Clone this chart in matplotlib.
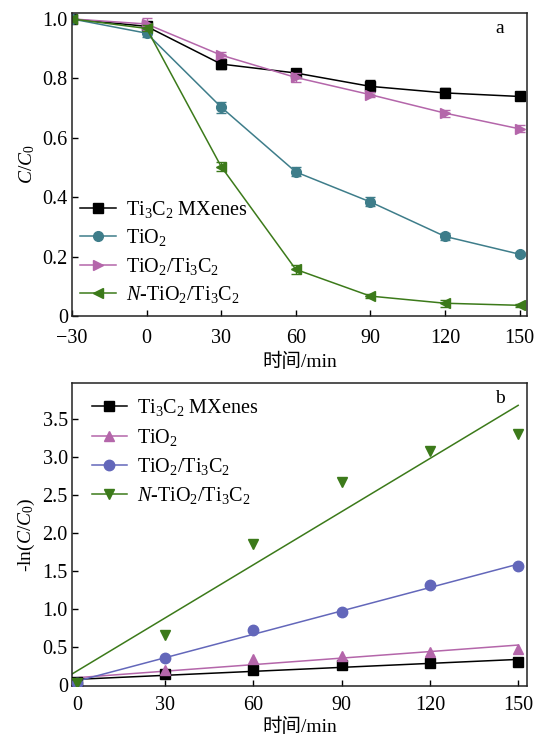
import numpy as np
import matplotlib
matplotlib.use('Agg')
import matplotlib.pyplot as plt
from matplotlib.ticker import FuncFormatter

plt.rcParams['font.family'] = ['Liberation Serif', 'Noto Sans CJK SC']
plt.rcParams['mathtext.fontset'] = 'custom'
plt.rcParams['mathtext.rm'] = 'Liberation Serif'
plt.rcParams['mathtext.it'] = 'Liberation Serif:italic'
plt.rcParams['font.size'] = 14

# panel a data: C/C0 vs time
time_a = [-30, 0, 30, 60, 90, 120, 150]
mxene_a = [1.0, 0.975, 0.848, 0.818, 0.773, 0.751, 0.739]
mxene_err = [0.005, 0.01, 0.015, 0.008, 0.02, 0.015, 0.006]
tio2_a = [1.0, 0.952, 0.703, 0.485, 0.384, 0.268, 0.208]
tio2_err = [0.005, 0.012, 0.018, 0.015, 0.015, 0.012, 0.006]
comp_a = [1.0, 0.983, 0.878, 0.803, 0.745, 0.683, 0.630]
comp_err = [0.005, 0.02, 0.01, 0.015, 0.008, 0.012, 0.012]
ncomp_a = [1.0, 0.968, 0.503, 0.157, 0.067, 0.043, 0.036]
ncomp_err = [0.004, 0.01, 0.015, 0.015, 0.006, 0.012, 0.005]

# panel b data: -ln(C/C0) vs time
time_b = [0, 30, 60, 90, 120, 150]
mxene_b = [0.04, 0.15, 0.20, 0.26, 0.29, 0.31]
tio2_b = [0.03, 0.20, 0.35, 0.38, 0.44, 0.48]
comp_b = [0.03, 0.355, 0.72, 0.96, 1.31, 1.56]
ncomp_b = [0.03, 0.66, 1.85, 2.67, 3.08, 3.30]

labels = [r'Ti$_3$C$_2$ MXenes', r'TiO$_2$', r'TiO$_2$/Ti$_3$C$_2$',
          r'$N$-TiO$_2$/Ti$_3$C$_2$']

black = '#000000'
teal = '#3E7D8A'
pink = '#B466AA'
blue = '#6367BA'
green = '#3C7A1A'

fig = plt.figure(figsize=(5.36, 7.38), dpi=100)
ax1 = fig.add_axes([0.1343, 0.5718, 0.8489, 0.4106])
ax2 = fig.add_axes([0.1343, 0.0705, 0.8489, 0.4105])

# ---- panel a ----
series_a = [(mxene_a, mxene_err, black, 's', 6.5),
            (tio2_a, tio2_err, teal, 'o', 7),
            (comp_a, comp_err, pink, '>', 7.5),
            (ncomp_a, ncomp_err, green, '<', 7.5)]
handles = []
for (vals, err, col, mk, ms), lab in zip(series_a, labels):
    ax1.errorbar(time_a, vals, yerr=err, fmt='none', ecolor=col,
                 capsize=3.5, elinewidth=1, capthick=1)
    h, = ax1.plot(time_a, vals, color=col, marker=mk, markersize=ms,
                  linewidth=1.1, label=lab)
    handles.append(h)

ax1.set_xlim(-30, 153)
ax1.set_ylim(0, 1.02)
ax1.set_xticks([-30, 0, 30, 60, 90, 120, 150])
ax1.set_yticks([0, 0.2, 0.4, 0.6, 0.8, 1.0])
ax1.yaxis.set_major_formatter(FuncFormatter(lambda v, p: '0' if v == 0 else f'{v:.1f}'))
ax1.set_xlabel('时间/min', fontsize=14, labelpad=4)
ax1.set_ylabel(r'$C$/$C_0$', fontsize=14, labelpad=4)
ax1.text(0.94, 0.95, 'a', transform=ax1.transAxes, fontsize=14,
         ha='center', va='center')
ax1.legend(handles=handles, loc='lower left', frameon=False, fontsize=14.5,
           handlelength=1.75, handletextpad=0.5, labelspacing=0.36,
           borderaxespad=0.15, bbox_to_anchor=(-0.006, 0.0))

# ---- panel b ----
xfit = np.array([-1.7, 150])
series_b = [(mxene_b, black, 's', 6.5),
            (tio2_b, pink, '^', 7.5),
            (comp_b, blue, 'o', 7.5),
            (ncomp_b, green, 'v', 7.5)]
handles = []
for (vals, col, mk, ms), lab in zip(series_b, labels):
    k, b = np.polyfit(time_b, vals, 1)
    ax2.plot(xfit, k * xfit + b, color=col, linewidth=1.1)
    ax2.plot(time_b, vals, linestyle='none', color=col, marker=mk, markersize=ms,
             zorder=3)
    h, = ax2.plot([], [], color=col, marker=mk, markersize=ms, linewidth=1.1,
                  label=lab)
    handles.append(h)

ax2.set_xlim(-1.7, 153)
ax2.set_ylim(-0.01, 3.97)
ax2.set_xticks([0, 30, 60, 90, 120, 150])
ax2.set_yticks([0, 0.5, 1.0, 1.5, 2.0, 2.5, 3.0, 3.5])
ax2.yaxis.set_major_formatter(FuncFormatter(lambda v, p: '0' if v == 0 else f'{v:.1f}'))
ax2.set_xlabel('时间/min', fontsize=14, labelpad=2)
ax2.set_ylabel(r'-ln($C$/$C_0$)', fontsize=14, labelpad=4)
ax2.text(0.94, 0.95, 'b', transform=ax2.transAxes, fontsize=14,
         ha='center', va='center')
ax2.legend(handles=handles, loc='upper left', frameon=False, fontsize=14.5,
           handlelength=1.75, handletextpad=0.5, labelspacing=0.42,
           borderaxespad=0.3, bbox_to_anchor=(0.012, 1.0))

for ax in (ax1, ax2):
    ax.tick_params(direction='in', length=4, width=1, labelsize=14.5, pad=3,
                   top=False, right=False)
    ax.tick_params(axis='x', pad=7)
    for s in ax.spines.values():
        s.set_linewidth(1.1)
        s.set_color('#222222')
ax1.tick_params(axis='x', pad=9)

fig.savefig('out.png', dpi=100)
